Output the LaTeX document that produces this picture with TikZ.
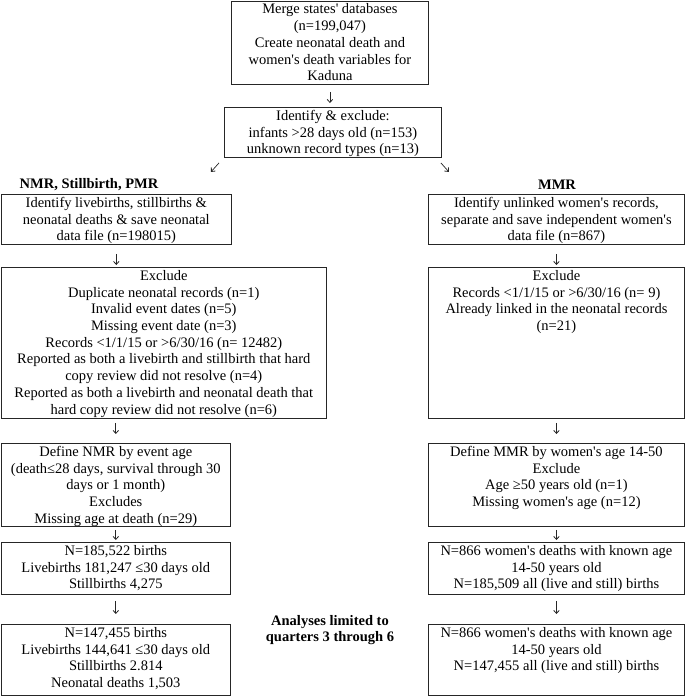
\documentclass[tikz,border=0pt]{standalone}
\usepackage{fontspec}
\setmainfont{Liberation Serif}
\usetikzlibrary{calc,arrows.meta}
\newcommand{\ap}{\textquotesingle}
\tikzset{
  box/.style={draw=black!85, line width=0.9pt, inner sep=0pt, anchor=north west},
  ttl/.style={inner sep=0pt, font=\bfseries, align=center},
  conn/.style={draw=black!85, line width=0.7pt, -{Straight Barb[length=3pt,width=5.5pt,line width=0.8pt]}}
}
\newcommand{\flowbox}[6]{\node[box] (#1) at (#2pt,-#3pt)
  {\parbox[c][#5pt][t]{#4pt}{\centering\rule{0pt}{13pt}#6}};}
\begin{document}
\begin{tikzpicture}[x=1pt,y=1pt]
\fontsize{14.5}{16.7}\selectfont
\lineskiplimit=-20pt
\useasboundingbox (0,0) rectangle (685,-697);
\flowbox{merge}{231}{0.5}{197}{83.5}{Merge states\ap{} databases\\(n=199,047)\\Create neonatal death and\\women\ap s death variables for\\Kaduna}
\flowbox{ident}{224}{107}{217}{50}{Identify \& exclude:\\infants >28 days old (n=153)\\unknown record types (n=13)}
\node[ttl] (tl) at (89,-185) {NMR, Stillbirth, PMR};
\node[ttl] (tr) at (557,-185) {MMR};
\flowbox{lA}{0.7}{194}{230.3}{50}{Identify livebirths, stillbirths \&\\neonatal deaths \& save neonatal\\data file (n=198015)}
\flowbox{lB}{0.7}{267}{325.3}{151}{Exclude\\Duplicate neonatal records (n=1)\\Invalid event dates (n=5)\\Missing event date (n=3)\\Records <1/1/15 or >6/30/16 (n= 12482)\\Reported as both a livebirth and stillbirth that hard\\copy review did not resolve (n=4)\\Reported as both a livebirth and neonatal death that\\hard copy review did not resolve (n=6)}
\flowbox{lC}{0.7}{443}{229.3}{83}{Define NMR by event age\\(death≤28 days, survival through 30\\days or 1 month)\\Excludes\\Missing age at death (n=29)}
\flowbox{lD}{0.7}{542}{229.3}{52}{N=185,522 births\\Livebirths 181,247 ≤30 days old\\Stillbirths 4,275}
\flowbox{lE}{0.7}{624}{229.3}{71}{N=147,455 births\\Livebirths 144,641 ≤30 days old\\Stillbirths 2.814\\Neonatal deaths 1,503}
\flowbox{rA}{428}{194}{256}{50}{Identify unlinked women\ap s records,\\separate and save independent women\ap s\\data file (n=867)}
\flowbox{rB}{428}{267}{256}{151}{Exclude\\Records <1/1/15 or >6/30/16 (n= 9)\\Already linked in the neonatal records\\(n=21)}
\flowbox{rC}{428}{443}{256}{83}{Define MMR by women\ap s age 14-50\\Exclude\\Age ≥50 years old (n=1)\\Missing women\ap s age (n=12)}
\flowbox{rD}{428}{542}{256}{52}{N=866 women\ap s deaths with known age\\14-50 years old\\N=185,509 all (live and still) births}
\flowbox{rE}{428}{624}{256}{71}{N=866 women\ap s deaths with known age\\14-50 years old\\N=147,455 all (live and still) births}
\node[ttl] (lim) at (330,-630) {Analyses limited to\\quarters 3 through 6};
% connectors
\draw[conn] ([yshift=-7pt]merge.south) -- ([yshift=4pt]merge.south |- ident.north);
\draw[conn] ($(ident.south west)+(-5,-5)$) -- ++(-8,-9);
\draw[conn] ($(ident.south east)+(-1,-5)$) -- ++(8,-9);
\draw[conn] ([yshift=-9pt]lA.south) -- ([yshift=2pt]lA.south |- lB.north);
\draw[conn] ([yshift=-4pt]lC.north |- lB.south) -- ([yshift=9pt]lC.north);
\draw[conn] ([yshift=-3pt]lC.south) -- ([yshift=2pt]lC.south |- lD.north);
\draw[conn] ([yshift=-6pt]lD.south) -- ([yshift=10pt]lD.south |- lE.north);
\draw[conn] ([yshift=-9pt]rA.south) -- ([yshift=2pt]rA.south |- rB.north);
\draw[conn] ([yshift=-4pt]rB.south) -- ([yshift=9pt]rC.north);
\draw[conn] ([yshift=-3pt]rC.south) -- ([yshift=2pt]rD.north);
\draw[conn] ([yshift=-6pt]rD.south) -- ([yshift=10pt]rE.north);
\end{tikzpicture}
\end{document}
